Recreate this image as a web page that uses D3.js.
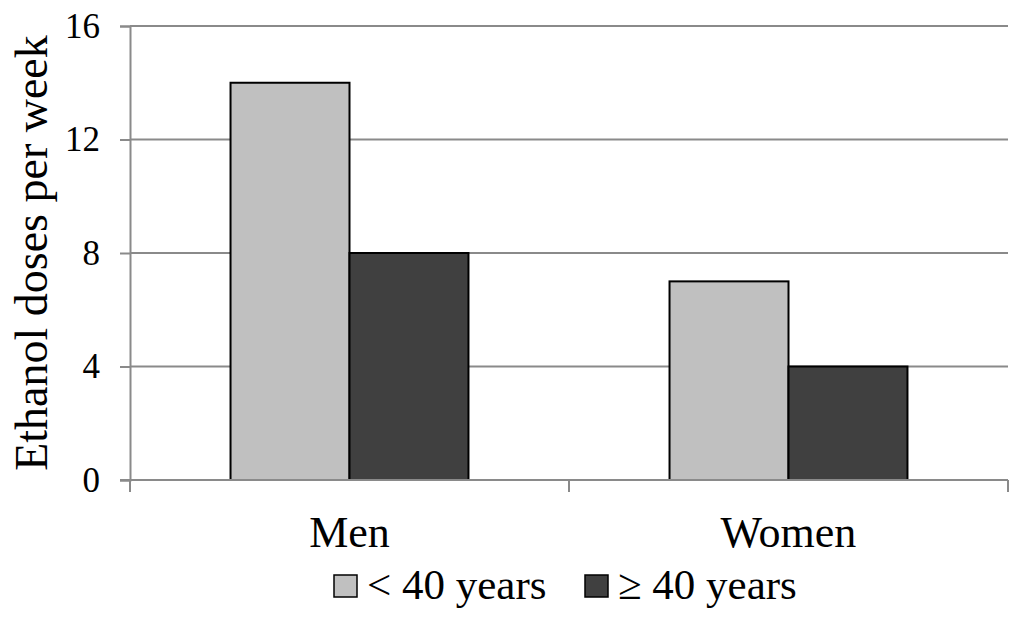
<!DOCTYPE html>
<html><head><meta charset="utf-8">
<script src="https://cdn.jsdelivr.net/npm/d3@7/dist/d3.min.js"></script>
<style>body{margin:0;background:#fff}svg{display:block}text{font-family:"Liberation Serif","Times New Roman",serif;fill:#000}</style>
</head><body>
<script>
const categories = ["Men", "Women"];
const seriesNames = ["< 40 years", "\u2265 40 years"];
const under40 = [14, 7];
const over40 = [8, 4];
const yTicks = [0, 4, 8, 12, 16];
const colors = ["#c0c0c0", "#404040"];

const W = 1024, H = 625;
const m = {left: 130, right: 16, top: 26, bottom: 145};
const svg = d3.select("body").append("svg").attr("width", W).attr("height", H);

const x = d3.scaleBand().domain(categories).range([m.left, W - m.right]).paddingInner(0).paddingOuter(0);
const x1 = d3.scaleBand().domain(seriesNames).range([0, x.bandwidth()]).paddingInner(0).paddingOuter(0.845);
const y = d3.scaleLinear().domain([0, 16]).range([H - m.bottom, m.top]);

// gridlines
svg.append("g").selectAll("line").data(yTicks.filter(d => d > 0)).join("line")
  .attr("x1", m.left).attr("x2", W - m.right)
  .attr("y1", d => y(d)).attr("y2", d => y(d))
  .attr("stroke", "#8a8a8a").attr("stroke-width", 2);

// y axis
const yAxis = svg.append("g").attr("transform", `translate(${m.left},0)`)
  .call(d3.axisLeft(y).tickValues(yTicks).tickSize(10).tickPadding(20));
yAxis.attr("font-family", null).attr("font-size", null);
yAxis.select(".domain").attr("stroke", "#8a8a8a").attr("stroke-width", 2);
yAxis.selectAll(".tick line").attr("stroke", "#8a8a8a").attr("stroke-width", 2);
yAxis.selectAll(".tick text").style("font-size", "35px").attr("fill", "#000");

// bars
const data = categories.map((c, i) => ({cat: c, vals: [under40[i], over40[i]]}));
svg.append("g").selectAll("g").data(data).join("g")
  .attr("transform", d => `translate(${x(d.cat)},0)`)
  .selectAll("rect").data(d => d.vals.map((v, j) => ({name: seriesNames[j], v, j}))).join("rect")
  .attr("x", d => x1(d.name)).attr("width", x1.bandwidth())
  .attr("y", d => y(d.v)).attr("height", d => y(0) - y(d.v))
  .attr("fill", d => colors[d.j]).attr("stroke", "#000").attr("stroke-width", 2);

// x axis
const xAxis = svg.append("g").attr("transform", `translate(0,${y(0)})`);
xAxis.append("line").attr("x1", m.left - 10).attr("x2", W - m.right).attr("y1", 0).attr("y2", 0)
  .attr("stroke", "#8a8a8a").attr("stroke-width", 2);
const xb = [m.left, ...categories.map(c => x(c) + x.bandwidth())];
xAxis.selectAll("line.t").data(xb).join("line").attr("class", "t")
  .attr("x1", d => d).attr("x2", d => d).attr("y1", 0).attr("y2", 12)
  .attr("stroke", "#8a8a8a").attr("stroke-width", 2);
xAxis.selectAll("text").data(categories).join("text")
  .attr("x", d => x(d) + x.bandwidth() / 2).attr("y", 67)
  .attr("text-anchor", "middle").style("font-size", "44px").text(d => d);

// y title
svg.append("text").attr("transform", `translate(47,${(y(0) + y(16)) / 2}) rotate(-90)`)
  .attr("text-anchor", "middle").style("font-size", "46px").text("Ethanol doses per week");

// legend
const leg = svg.append("g");
const legX = [334, 585];
seriesNames.forEach((n, i) => {
  leg.append("rect").attr("x", legX[i]).attr("y", 575).attr("width", 23).attr("height", 22)
    .attr("fill", colors[i]).attr("stroke", "#000").attr("stroke-width", 1.5);
  leg.append("text").attr("x", legX[i] + 33).attr("y", 599).style("font-size", "43px").text(n);
});
</script>
</body></html>
